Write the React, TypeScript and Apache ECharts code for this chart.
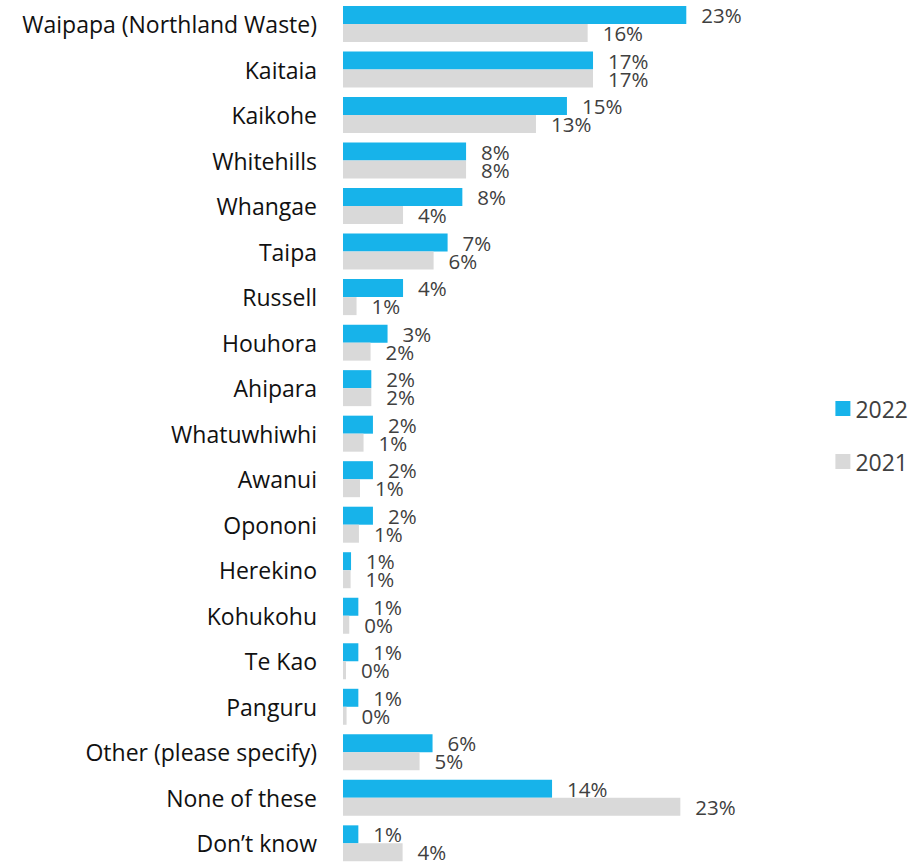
import React, { useEffect, useRef } from "react";
import * as echarts from "echarts";

const categories = [
  "Waipapa (Northland Waste)",
  "Kaitaia",
  "Kaikohe",
  "Whitehills",
  "Whangae",
  "Taipa",
  "Russell",
  "Houhora",
  "Ahipara",
  "Whatuwhiwhi",
  "Awanui",
  "Opononi",
  "Herekino",
  "Kohukohu",
  "Te Kao",
  "Panguru",
  "Other (please specify)",
  "None of these",
  "Don’t know",
];

const values2022 = [23.04, 16.78, 15.03, 8.26, 8.01, 7.02, 4.03, 2.99, 1.9, 2.01, 2.01, 2.01, 0.54, 1.03, 1.03, 1.03, 6.01, 14.03, 1.03];
const values2021 = [16.42, 16.78, 12.95, 8.26, 4.03, 6.08, 0.91, 1.85, 1.9, 1.38, 1.14, 1.07, 0.51, 0.42, 0.2, 0.24, 5.14, 22.64, 4.0];

const seriesNames = ["2022", "2021"];
const FONT = "'Open Sans', 'Noto Sans', sans-serif";

export default function App() {
  const ref = useRef<HTMLDivElement>(null);
  useEffect(() => {
    if (!ref.current) return;
    const chart = echarts.init(ref.current, undefined, { renderer: "svg" });
    const labelCfg = {
      show: true,
      position: "right" as const,
      distance: 15,
      color: "#404040",
      fontSize: 20.5,
      fontFamily: FONT,
      formatter: (p: any) => Math.round(p.value) + "%",
    };
    chart.setOption({
      animation: false,
      backgroundColor: "#ffffff",
      grid: { left: 343, right: 4.8, top: 1.24, bottom: 3.9, containLabel: false },
      legend: {
        orient: "vertical",
        right: 1,
        top: 392,
        itemWidth: 15,
        itemHeight: 15,
        itemGap: 30,
        icon: "rect",
        data: seriesNames,
        textStyle: { fontSize: 23, color: "#404040", fontFamily: FONT, lineHeight: 23 },
      },
      xAxis: {
        type: "value",
        min: 0,
        max: 38,
        show: false,
      },
      yAxis: {
        type: "category",
        inverse: true,
        data: categories,
        axisLine: { show: false },
        axisTick: { show: false },
        splitLine: { show: false },
        axisLabel: { fontSize: 23, color: "#111111", fontFamily: FONT, margin: 26 },
      },
      series: [
        {
          name: seriesNames[0],
          type: "bar",
          data: values2022,
          barWidth: 18,
          barGap: "0%",
          itemStyle: { color: "#17B3EA" },
          label: labelCfg,
        },
        {
          name: seriesNames[1],
          type: "bar",
          data: values2021,
          barWidth: 18,
          barGap: "0%",
          itemStyle: { color: "#D9D9D9" },
          label: labelCfg,
        },
      ],
    });
    return () => chart.dispose();
  }, []);
  return (
    <div style={{ position: "absolute", left: 0, top: 0, width: 914, height: 862, overflow: "hidden" }}>
      <div ref={ref} style={{ width: 914, height: 870 }} />
    </div>
  );
}
